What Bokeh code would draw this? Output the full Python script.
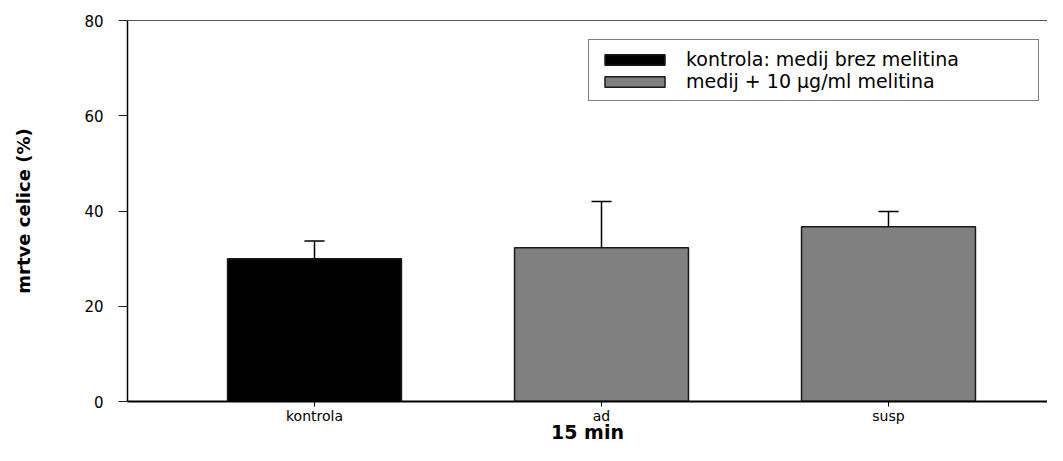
from bokeh.plotting import figure
from bokeh.models import (Range1d, FixedTicker, LinearAxis, Legend, LegendItem,
                          ColumnDataSource)
from bokeh.embed import file_html
from bokeh.resources import INLINE

# ---- data ----
categories = ["kontrola", "ad", "susp"]
means = [30.0, 32.3, 36.7]
errors = [3.7, 9.7, 3.2]
bar_colors = ["#000000", "#808080", "#808080"]
series_labels = ["kontrola: medij brez melitina", "medij + 10 \u03bcg/ml melitina"]
y_ticks = [0, 20, 40, 60, 80]
x_title = "15 min"
y_title = "mrtve celice (%)"

xs = [i + 1 for i in range(len(categories))]
tops = [m + e for m, e in zip(means, errors)]
cap = 0.035
src = ColumnDataSource(dict(
    x=xs, top=means, color=bar_colors, err_top=tops,
    cap_l=[x - cap for x in xs], cap_r=[x + cap for x in xs]))

FONT = "DejaVu Sans"

p = figure(width=1047, height=445, output_backend="svg", toolbar_location=None,
           x_range=Range1d(0.3484, 3.554), y_range=Range1d(0, 80),
           min_border_left=127, min_border_right=0, min_border_top=20,
           min_border_bottom=44)
p.outline_line_color = None
p.grid.visible = False
p.background_fill_color = "white"
p.border_fill_color = "white"

r = p.vbar(x="x", top="top", bottom=0, width=0.606, fill_color="color",
           line_color="#1a1a1a", line_width=1.5, source=src)
p.segment(x0="x", y0="top", x1="x", y1="err_top", line_color="black",
          line_width=1.5, source=src)
p.segment(x0="cap_l", y0="err_top", x1="cap_r", y1="err_top",
          line_color="black", line_width=1.5, source=src)

# x axis
xa = p.xaxis[0]
xa.ticker = FixedTicker(ticks=xs)
xa.major_label_overrides = {x: c for x, c in zip(xs, categories)}
xa.axis_line_width = 2
xa.axis_line_color = "black"
xa.major_tick_in = 0
xa.major_tick_out = 5
xa.major_tick_line_color = "black"
xa.minor_tick_line_color = None
xa.major_label_standoff = 1
xa.major_label_text_font = FONT
xa.major_label_text_font_size = "14px"
xa.major_label_text_color = "black"
xa.axis_label = x_title
xa.axis_label_text_font = FONT
xa.axis_label_text_font_style = "bold"
xa.axis_label_text_font_size = "19px"
xa.axis_label_text_color = "black"
xa.axis_label_standoff = -6

# y axis
ya = p.yaxis[0]
ya.ticker = FixedTicker(ticks=y_ticks)
ya.axis_line_width = 1.5
ya.axis_line_color = "black"
ya.major_tick_in = 0
ya.major_tick_out = 9
ya.major_tick_line_color = "#222222"
ya.minor_tick_line_color = None
ya.major_label_standoff = 15
ya.major_label_text_font = FONT
ya.major_label_text_font_size = "15px"
ya.major_label_text_color = "black"
ya.axis_label = y_title
ya.axis_label_text_font = FONT
ya.axis_label_text_font_style = "bold"
ya.axis_label_text_font_size = "18px"
ya.axis_label_text_color = "black"
ya.axis_label_standoff = 47

# top frame line
top_ax = LinearAxis(ticker=FixedTicker(ticks=[]), axis_line_color="#555555",
                    axis_line_width=1, major_tick_line_color=None,
                    minor_tick_line_color=None, major_tick_out=0,
                    major_label_standoff=0, major_label_text_font_size="0px")
p.add_layout(top_ax, "above")

legend = Legend(items=[LegendItem(label=series_labels[0], renderers=[r], index=0),
                       LegendItem(label=series_labels[1], renderers=[r], index=1)],
                location=(461, 300), margin=0, padding=8, spacing=0,
                glyph_width=75, glyph_height=13, label_standoff=14,
                label_width=344, label_text_font=FONT, label_text_font_size="19px",
                label_text_color="black", border_line_color="black",
                border_line_width=1.5, background_fill_color="white",
                background_fill_alpha=1.0)
p.add_layout(legend)

open("out.html", "w").write(file_html(p, INLINE))
